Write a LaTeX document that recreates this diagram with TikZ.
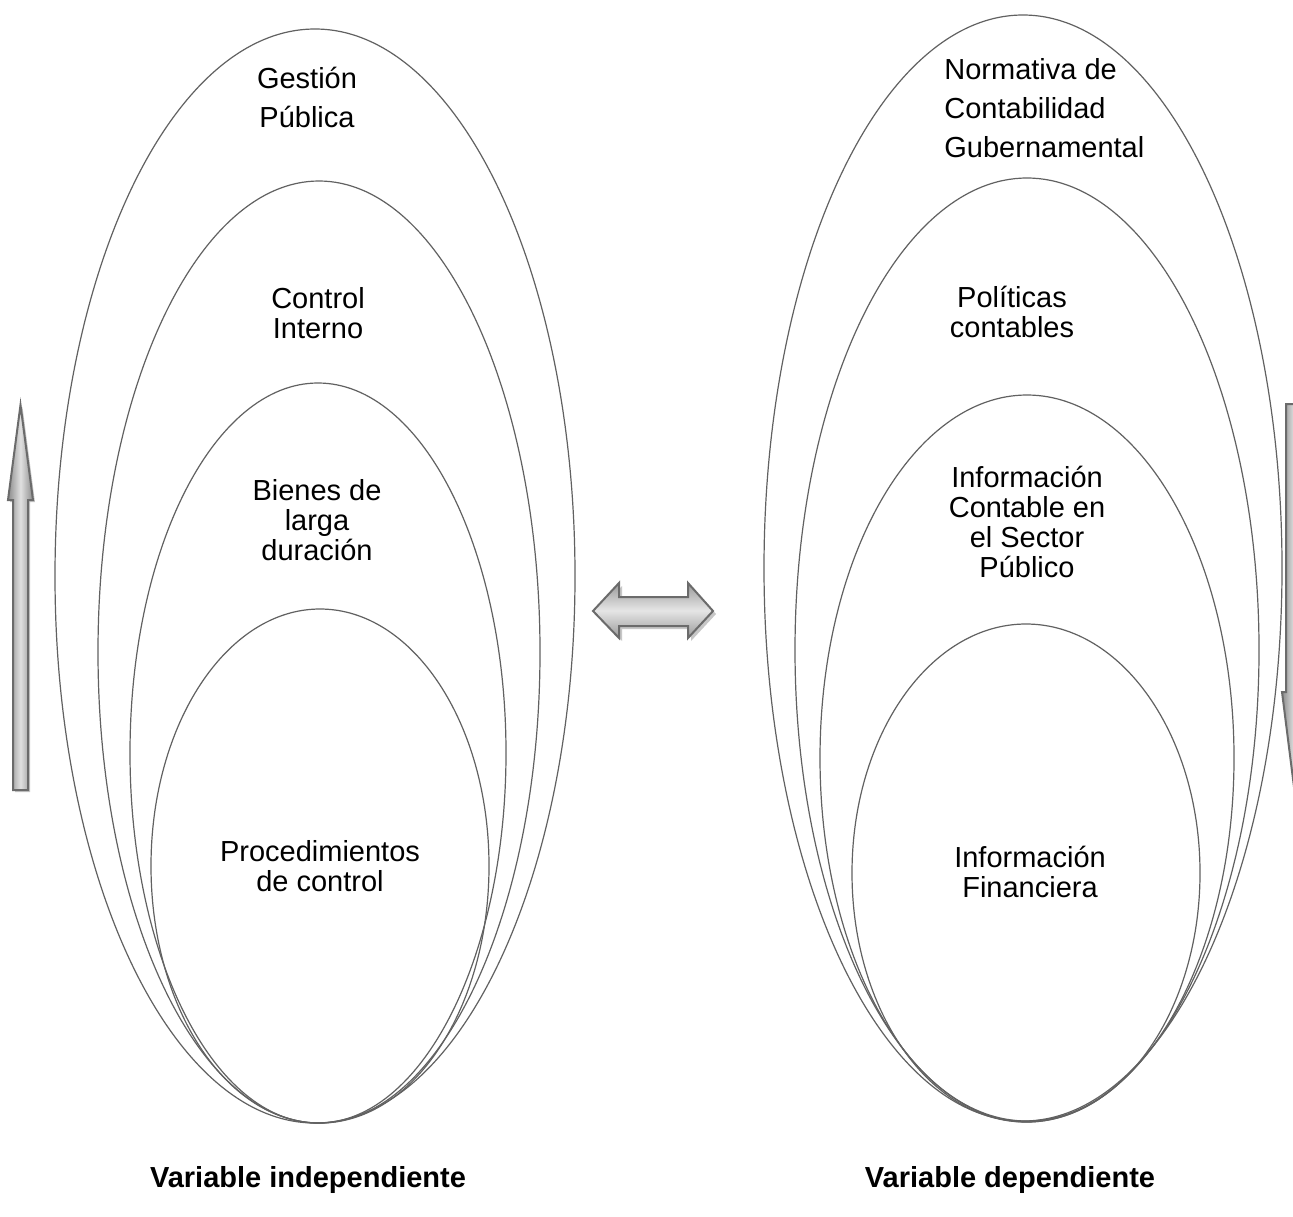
\documentclass[tikz,border=0pt]{standalone}
\usepackage{fontspec}
\setmainfont{Liberation Sans}
\usetikzlibrary{shapes.geometric}
\begin{document}
\begin{tikzpicture}[x=0.5pt,y=-0.5pt,
  oval/.style={draw=black!62, line width=0.6pt, ellipse, inner sep=0pt, outer sep=0pt},
  lbl/.style={font=\fontsize{14.5pt}{15pt}\selectfont, align=center, inner sep=0pt},
  lblwide/.style={font=\fontsize{14.5pt}{19.5pt}\selectfont, align=center, inner sep=0pt},
  title/.style={font=\bfseries\fontsize{14.5pt}{15pt}\selectfont, inner sep=0pt},
  arrbody/.style={draw=black!58, line width=1pt, line join=miter},
  arrshadow/.style={fill=black!22, draw=none},
]
\useasboundingbox[fill=white] (0,0) rectangle (1293,1216);

% ---- left group of ovals
\node[oval, minimum width=260pt, minimum height=547pt] (l1) at (315,576) {};
\node[oval, minimum width=221pt, minimum height=471pt] (l2) at (319,652) {};
\node[oval, minimum width=188pt, minimum height=370pt] (l3) at (318,753) {};
\node[oval, minimum width=169pt, minimum height=257pt] (l4) at (320,866) {};

% ---- right group of ovals
\node[oval, minimum width=259pt, minimum height=553pt] (r1) at (1023,568) {};
\node[oval, minimum width=232pt, minimum height=472pt] (r2) at (1027,650) {};
\node[oval, minimum width=207pt, minimum height=363pt] (r3) at (1027,758) {};
\node[oval, minimum width=174pt, minimum height=249pt] (r4) at (1026,873) {};

% ---- labels
\node[lblwide] (tl1) at (307,97.5) {Gestión\\Pública};
\node[lbl] (tl2) at (318,313) {Control\\Interno};
\node[lbl] (tl3) at (317,520.5) {Bienes de\\larga\\duración};
\node[lbl] (tl4) at (320,866) {Procedimientos\\de control};

\node[lblwide, align=left, anchor=west] (tr1) at (944,108) {Normativa de\\Contabilidad\\Gubernamental};
\node[lbl] (tr2) at (1012,312) {Políticas\\contables};
\node[lbl] (tr3) at (1027,521.5) {Información\\Contable en\\el Sector\\Público};
\node[lbl] (tr4) at (1030,872) {Información\\Financiera};

\node[title] (vi) at (308,1180) {Variable independiente};
\node[title] (vd) at (1010,1180) {Variable dependiente};

% ---- left up arrow
\fill[arrshadow] (15,792) -- (15,502) -- (10,502) -- (22.5,407) -- (35,502) -- (30,502) -- (30,792) -- cycle;
\path[arrbody, left color=black!45, right color=black!45, middle color=black!12]
  (13,790) -- (13,500) -- (8,500) -- (20.5,405) -- (33,500) -- (28,500) -- (28,790) -- cycle;

% ---- right down arrow (cut by the border)
\begin{scope}
\clip (0,0) rectangle (1293,1216);
\path[arrbody, left color=black!45, right color=black!45, middle color=black!12]
  (1286,404) -- (1301,404) -- (1301,692) -- (1306,692) -- (1294,787) -- (1282,692) -- (1286,692) -- cycle;
\end{scope}

% ---- central double arrow
\fill[arrshadow] (596,614) -- (622,586) -- (622,600) -- (691,600) -- (691,586) -- (716,614)
  -- (691,641) -- (691,629) -- (622,629) -- (622,641) -- cycle;
\path[arrbody, top color=black!40, bottom color=black!40, middle color=black!10]
  (593,611) -- (619,583) -- (619,597) -- (688,597) -- (688,583) -- (713,611)
  -- (688,638) -- (688,626) -- (619,626) -- (619,638) -- cycle;
\end{tikzpicture}
\end{document}
